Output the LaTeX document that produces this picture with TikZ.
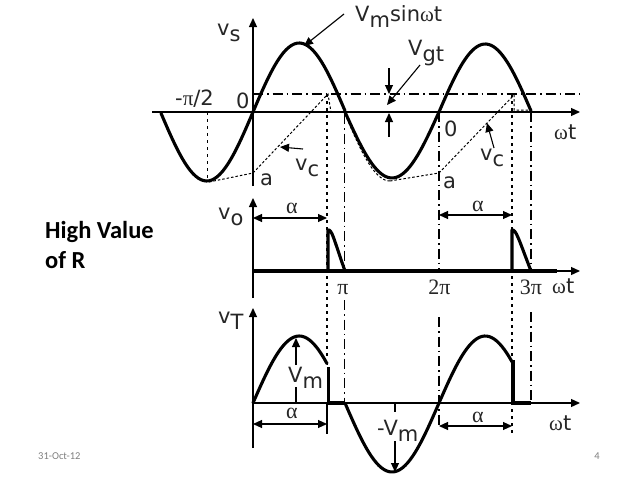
\documentclass[tikz,border=0pt]{standalone}
\usepackage{fontspec}
\setmainfont{DejaVu Sans}
\newfontfamily\grk{Liberation Serif}
\newfontfamily\crl{Carlito}
\usetikzlibrary{arrows.meta}
\newcommand{\sbs}[1]{\raisebox{-6pt}{#1}}
\tikzset{
  x=1pt,y=-1pt,
  lab/.style={inner sep=0pt,text=black!85,font=\fontsize{21}{22}\selectfont},
  glab/.style={inner sep=0pt,text=black!85,font=\fontsize{22}{24}\grk},
  axis/.style={line width=1.3pt,-{Triangle[length=9pt,width=8pt]}},
  dim/.style={line width=1.1pt,{Triangle[length=9pt,width=8pt]}-{Triangle[length=9pt,width=8pt]}},
  ptr/.style={line width=1.1pt,-{Triangle[length=9pt,width=8pt]}},
  wave/.style={line width=3.1pt,line join=round,line cap=round},
  dots/.style={line width=1.3pt,dash pattern=on 3pt off 4pt},
  ddot/.style={line width=1.2pt,dash pattern=on 10pt off 4pt on 1.5pt off 4pt},
  thin dots/.style={line width=1pt,dash pattern=on 2.5pt off 2pt},
}
\begin{document}
\begin{tikzpicture}
\useasboundingbox[fill=white] (0,0) rectangle (638,479);
% --- guide lines
\draw[dots] (207.5,112) -- (207.5,181);
\draw[dots] (327,94) -- (327,357);
\draw[ddot] (344.5,114) -- (344.5,271);
\draw[ddot] (344.5,300) -- (344.5,403);
\draw[ddot] (439,112) -- (439,271);
\draw[ddot] (439,317) -- (439,426);
\draw[dots] (512,94) -- (512,433);
\draw[ddot] (531,112) -- (531,271);
\draw[ddot] (531,312) -- (531,403);
\draw[ddot] (253,94) -- (580,94);
% --- top graph
\draw[axis] (152,112) -- (580,112);
\draw[axis] (253,186) -- (253,18);
\draw[wave,domain=161:345,samples=70,smooth] plot (\x,{112-69*sin((\x-253)*1.9459)});
\draw[wave,domain=439:531,samples=40,smooth] plot (\x,{112-68*sin((\x-439)*1.9459)});
\draw[wave,domain=345:439,samples=40,smooth] plot (\x,{112+66*sin((\x-345)*1.9149)});
\draw[thin dots] (209,182) -- (253,173) -- (328,94) -- (331,112);
\draw[thin dots,domain=345:390,samples=20,smooth] plot (\x,{114+67*sin((\x-345)*2)});
\draw[thin dots] (390,181) -- (439,173) -- (514,95) -- (514,110) -- (531,110);
% --- annotations top
\node[lab,anchor=base west] (vs) at (217,35) {v\sbs{s}};
\node[lab,anchor=base west] (vmsin) at (355,21) {V\sbs{m}sin{\grk ω}t};
\node[lab,anchor=base west] (vgt) at (408,55) {V\sbs{gt}};
\node[lab,anchor=base west] (mpi) at (175,105) {-{\grk π}/2};
\node[lab,anchor=base west] (zero) at (236,108) {0};
\node[lab,anchor=base west] (zeroB) at (444,136) {0};
\node[lab,anchor=base west] (aA) at (260,185) {a};
\node[lab,anchor=base west] (aB) at (443,188) {a};
\node[lab,anchor=base west] (vcA) at (295,170) {v\sbs{c}};
\node[lab,anchor=base west] (vcB) at (480,160) {v\sbs{c}};
\node[lab,anchor=base west] (wtA) at (554,139) {{\grk ω}t};
\draw[ptr] (344,14) -- (304,46);
\draw[ptr] (420,65) -- (387,105);
\draw[ptr] (389,68) -- (389,94);
\draw[ptr] (389,137) -- (389,113);
\draw[ptr] (303,149) -- (280,147);
\draw[ptr] (494,148) -- (487,123);
% --- middle graph
\draw[axis] (253,271) -- (580,271);
\draw[axis] (253,298) -- (253,198);
\draw[wave,line cap=butt] (253,271) -- (557,271);
\draw[wave,line cap=butt] (328,271) -- (328,230) .. controls (332,229) and (334,240) .. (345,271);
\draw[wave,line cap=butt] (512,271) -- (512,230) .. controls (516,229) and (519,240) .. (531,271);
\draw[dim] (253,218) -- (327,218);
\draw[dim] (439,215) -- (512,215);
\node[glab] (a1) at (292,208) {α};
\node[glab] (a2) at (478,206) {α};
\node[lab,anchor=base west] (vo) at (218,219) {v\sbs{o}};
\node[glab,anchor=base] (p1) at (343,294) {π};
\node[glab,anchor=base] (p2) at (439.5,294) {2π};
\node[glab,anchor=base] (p3) at (531,294) {3π};
\node[lab,anchor=base west] (wtB) at (552,293) {{\grk ω}t};
% --- bottom graph
\draw[axis] (253,403) -- (580,403);
\draw[axis] (253,448) -- (253,308);
\draw[wave,domain=253:327,samples=30,smooth] plot (\x,{403-67*sin((\x-253)*1.9459)});
\draw[wave,line cap=butt] (328.5,367) -- (328.5,403) -- (345,403);
\draw[wave,domain=345:439,samples=40,smooth] plot (\x,{403+69*sin((\x-345)*1.9149)});
\draw[wave,domain=439:512,samples=30,smooth] plot (\x,{403-67*sin((\x-439)*1.9459)});
\draw[wave,line cap=butt] (513,360) -- (513,403) -- (531,403);
\draw[ptr] (296,365) -- (296,338);
\draw[line width=1.1pt] (296,387) -- (296,403);
\draw[line width=1.1pt] (327,403) -- (327,434);
\draw[line width=1.1pt] (395,403) -- (395,412);
\draw[ptr] (395,441) -- (395,472);
\draw[dim] (253,424) -- (327,424);
\draw[dim] (439,426) -- (512,426);
\node[glab] (a3) at (292,413) {α};
\node[glab] (a4) at (478,417) {α};
\node[lab,anchor=base west] (vt) at (218,323) {v\sbs{T}};
\node[lab,anchor=base west] (vm1) at (288,382) {V\sbs{m}};
\node[lab,anchor=base west] (vm2) at (377,435) {-V\sbs{m}};
\node[lab,anchor=base west] (wtC) at (549,430) {{\grk ω}t};
% --- slide text
\node[inner sep=0pt,anchor=base west,align=left,font=\fontsize{24.5}{30}\crl\bfseries,text=black] (hv) at (45,268) {High Value\\of R};
\node[inner sep=0pt,anchor=base west,font=\fontsize{10.5}{12}\crl,text=black!50] (date) at (38,459) {31-Oct-12};
\node[inner sep=0pt,anchor=base east,font=\fontsize{10.5}{12}\crl,text=black!50] (num) at (600,459) {4};
\end{tikzpicture}
\end{document}
